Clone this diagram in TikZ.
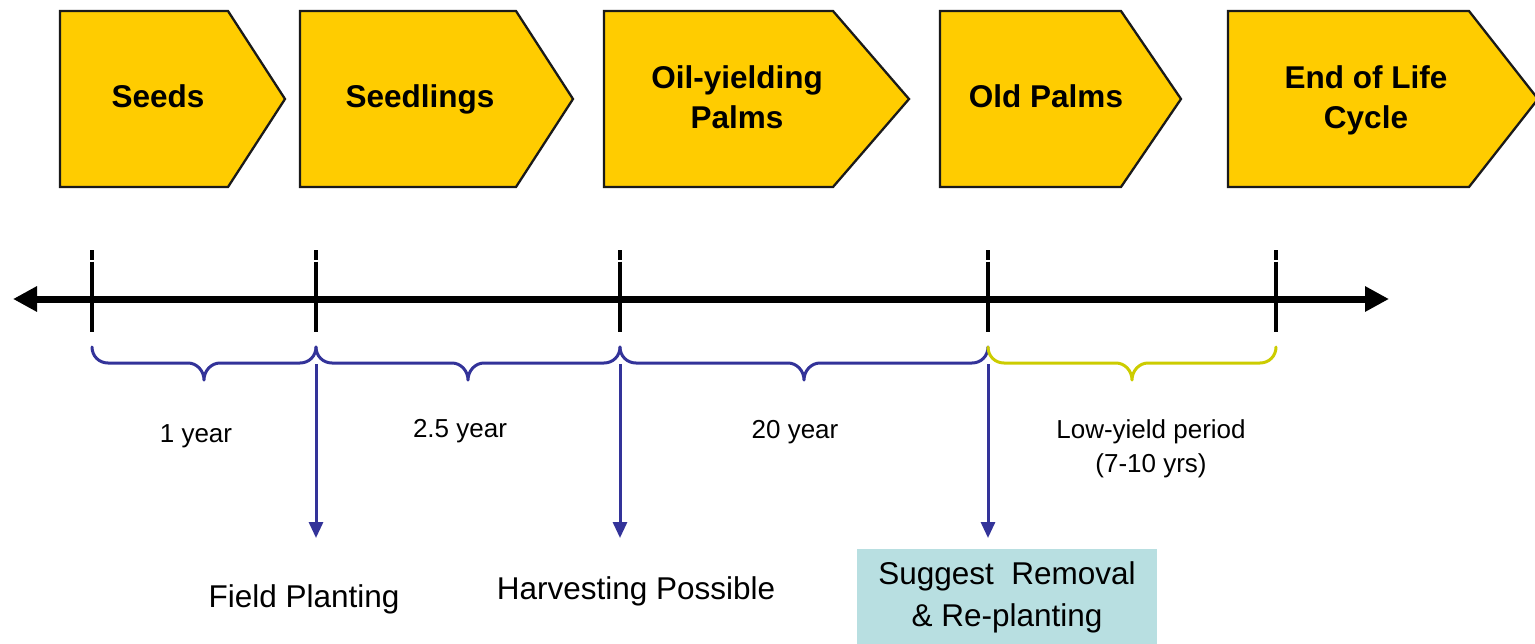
\documentclass[tikz,border=0pt]{standalone}
\usepackage{fontspec}
\setmainfont{Liberation Sans}
\usetikzlibrary{arrows.meta,calc}

\definecolor{stagefill}{HTML}{FFCC00}
\definecolor{stageline}{HTML}{1A1A1A}
\definecolor{spanblue}{HTML}{333399}
\definecolor{spanolive}{HTML}{CCCC00}
\definecolor{notefill}{HTML}{B8DFE1}

% curly brace hanging below the axis between two named points
\newcommand{\spanbrace}[3]{%
  \draw[#3]
    (#1) .. controls ($(#1)+(0,9)$) and ($(#1)+(7,16)$) .. ($(#1)+(16,16)$)
    -- ($(#1)!.5!(#2)+(-16,16)$)
    .. controls ($(#1)!.5!(#2)+(-7,16)$) and ($(#1)!.5!(#2)+(0,24)$) .. ($(#1)!.5!(#2)+(0,33)$)
    .. controls ($(#1)!.5!(#2)+(0,24)$) and ($(#1)!.5!(#2)+(7,16)$) .. ($(#1)!.5!(#2)+(16,16)$)
    -- ($(#2)+(-16,16)$)
    .. controls ($(#2)+(-7,16)$) and ($(#2)+(0,9)$) .. (#2);}

\begin{document}
\begin{tikzpicture}[x=1pt,y=-1pt,
  stageshape/.style={fill=stagefill, draw=stageline, line width=2.3pt, line join=miter},
  stagetext/.style={font=\bfseries\fontsize{31.5}{40}\selectfont, align=center, anchor=base, inner sep=0pt},
  axistick/.style={line width=3.5pt},
  axisline/.style={line width=7pt, {Triangle[width=24pt,length=24pt]}-{Triangle[width=24pt,length=24pt]}},
  spanline/.style={line width=3pt, line join=round, line cap=round},
  spanlabel/.style={font=\fontsize{26}{34}\selectfont, align=center, anchor=base, inner sep=0pt},
  milestone/.style={draw=spanblue, line width=3pt, -{Triangle[width=14pt,length=16pt]}},
  outcome/.style={font=\fontsize{31.5}{42}\selectfont, align=center, anchor=base, inner sep=0pt},
  notebox/.style={fill=notefill, inner sep=0pt, minimum width=300pt, minimum height=96pt, align=center,
    font=\fontsize{31.5}{42}\selectfont}
]
\useasboundingbox (0,0) rectangle (1535,643);

% ---- life-cycle stages (pentagon arrows) ----
\draw[stageshape] (60,11) -- (228,11) -- (285,99) -- (228,187) -- (60,187) -- cycle;
\draw[stageshape] (300,11) -- (516,11) -- (573,99) -- (516,187) -- (300,187) -- cycle;
\draw[stageshape] (604,11) -- (833,11) -- (909,99) -- (833,187) -- (604,187) -- cycle;
\draw[stageshape] (940,11) -- (1121,11) -- (1181,99) -- (1121,187) -- (940,187) -- cycle;
\draw[stageshape] (1228,11) -- (1469,11) -- (1538,99) -- (1469,187) -- (1228,187) -- cycle;

% multi-line labels are anchored at the baseline of their last line
\node[stagetext] (seeds) at (158,107) {Seeds};
\node[stagetext] (seedlings) at (420,107) {Seedlings};
\node[stagetext] (oil) at (737,128) {Oil-yielding\\Palms};
\node[stagetext] (old) at (1046,107) {Old Palms};
\node[stagetext] (eol) at (1366,128) {End of Life\\Cycle};

% ---- time axis ----
\coordinate (axisL) at (13,299);
\coordinate (axisR) at (1389,299);
\draw[axisline] (axisL) -- (axisR);

\foreach \x [count=\i] in {92,316,620,988,1276} {
  \coordinate (t\i) at (\x,299);
  \coordinate (s\i) at (\x,347);
  \draw[axistick] (\x,250) -- (\x,259.5) (\x,261.5) -- (\x,332);
}

% ---- durations ----
\spanbrace{s1}{s2}{spanline, draw=spanblue}
\spanbrace{s2}{s3}{spanline, draw=spanblue}
\spanbrace{s3}{s4}{spanline, draw=spanblue}
\spanbrace{s4}{s5}{spanline, draw=spanolive}

\node[spanlabel] (d1) at (196,442) {1 year};
\node[spanlabel] (d2) at (460,437) {2.5 year};
\node[spanlabel] (d3) at (795,438) {20 year};
\node[spanlabel] (d4) at (1151,472) {Low-yield period\\(7-10 yrs)};

% ---- milestones ----
\coordinate (m2) at (316,364);
\coordinate (m3) at (620,364);
\coordinate (m4) at (988,364);
\coordinate (e2) at (316,538);
\coordinate (e3) at (620,538);
\coordinate (e4) at (988,538);
\draw[milestone] (m2) -- (e2);
\draw[milestone] (m3) -- (e3);
\draw[milestone] (m4) -- (e4);

\node[outcome] (plant) at (304,607) {Field Planting};
\node[outcome] (harvest) at (636,599) {Harvesting Possible};
\node[notebox] (replant) at (1007,597) {Suggest\ \ Removal\\\& Re-planting};
\end{tikzpicture}
\end{document}
